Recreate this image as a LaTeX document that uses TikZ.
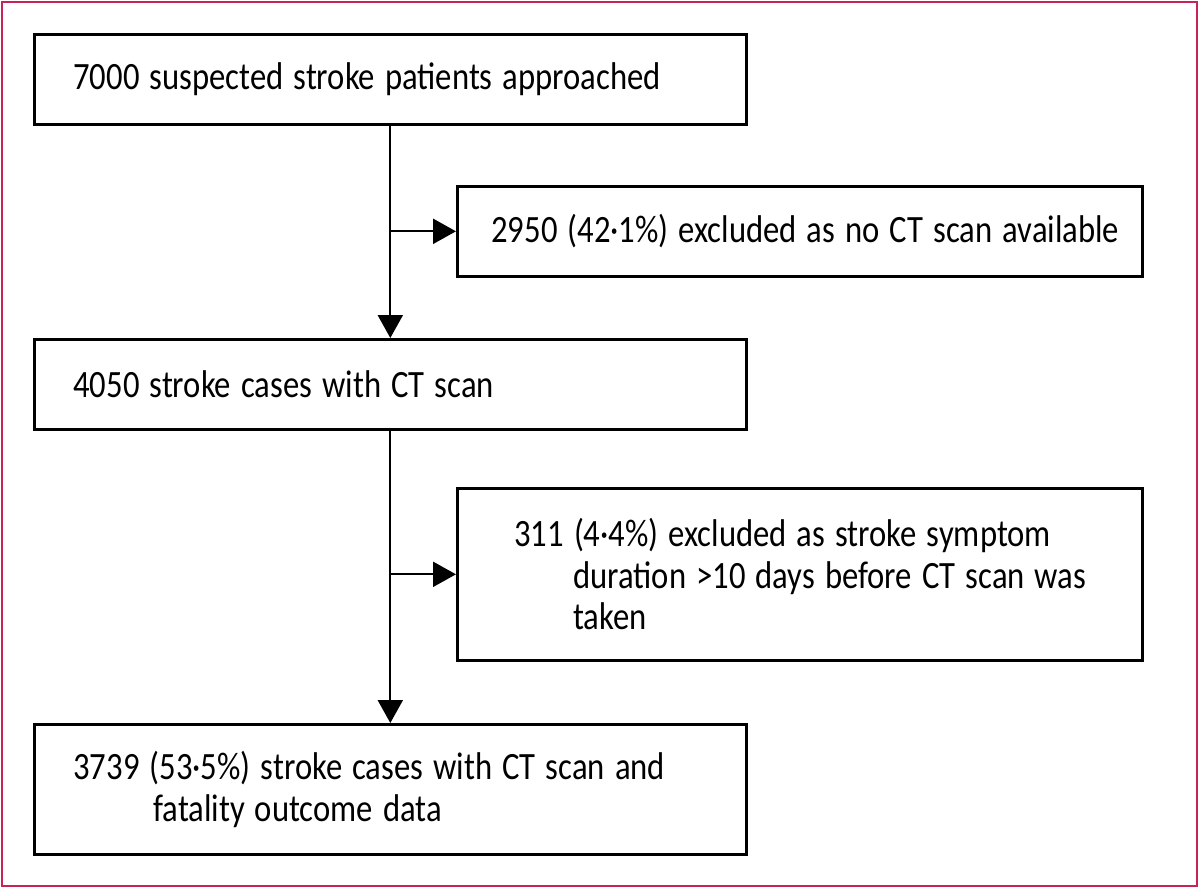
\documentclass[tikz,border=0pt]{standalone}
\usepackage{fontspec}
\setmainfont{Carlito}[FakeStretch=0.845]
\usetikzlibrary{arrows.meta}
\definecolor{framecol}{RGB}{200,35,85}
\tikzset{
  box/.style={draw,line width=0.75pt,anchor=north west,align=left,minimum height=0.9cm,
    execute at begin node={\fontdimen2\font=0.26em\spaceskip=0.26em\relax}},
  arr/.style={line width=0.6pt,-{Triangle[length=0.23cm,width=0.25cm]}},
}
\begin{document}
\begin{tikzpicture}[font=\fontsize{11}{11.8}\selectfont]
%frame
\useasboundingbox (0,0) rectangle (12,-8.89);
\draw[framecol,line width=0.6pt] (0.02,-0.02) rectangle (11.97,-8.86);
%boxes
\node[box,text width=6.34cm,inner xsep=0.39cm] (approached) at (0.33,-0.33) {7000 suspected stroke patients approached};
\node[box,text width=6.17cm,inner xsep=0.34cm] (noct) at (4.56,-1.85) {\mbox{2950 (42·1\%) excluded as no CT scan available}};
\node[box,text width=6.34cm,inner xsep=0.39cm] (withct) at (0.33,-3.38) {4050 stroke cases with CT scan};
\node[box,text width=5.71cm,inner xsep=0.57cm,minimum height=1.72cm] (late) at (4.56,-4.87) {\mbox{311 (4·4\%) excluded as stroke symptom}\\\mbox{\hspace*{0.59cm}duration >10 days before CT scan was}\\\hspace*{0.59cm}taken};
\node[box,text width=6.34cm,inner xsep=0.39cm,minimum height=1.3cm] (outcome) at (0.33,-7.23) {\mbox{3739 (53·5\%) stroke cases with CT scan and}\\\hspace*{0.8cm}fatality outcome data};
%arrows
\draw[arr] (approached.south) -- (withct.north);
\draw[arr] (approached.south |- noct.west) -- (noct.west);
\draw[arr] (withct.south) -- (outcome.north);
\draw[arr] (withct.south |- late.west) -- (late.west);
\end{tikzpicture}
\end{document}
